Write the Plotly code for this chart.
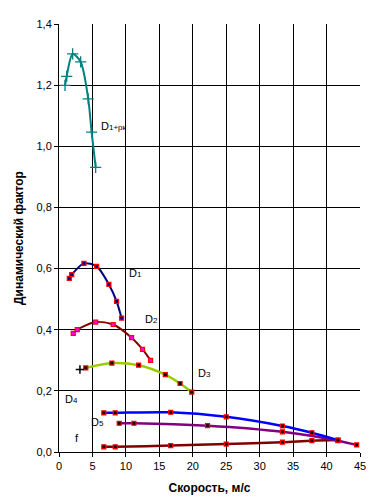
import plotly.graph_objects as go

# ---- data ----
d1rk_x = [0.9, 1.15, 2.04, 3.24, 4.37, 4.88, 5.48]
d1rk_y = [1.199, 1.229, 1.302, 1.276, 1.155, 1.046, 0.931]

d1_x = [1.54, 1.90, 3.73, 5.63, 7.46, 8.61, 9.36]
d1_y = [0.568, 0.580, 0.617, 0.607, 0.548, 0.493, 0.438]

d2_x = [2.13, 2.73, 5.48, 8.10, 10.85, 12.49, 13.69]
d2_y = [0.388, 0.400, 0.425, 0.417, 0.374, 0.336, 0.300]

d3_x = [4.0, 7.9, 11.9, 15.9, 18.1, 19.85]
d3_y = [0.275, 0.291, 0.284, 0.253, 0.224, 0.196]
d3_start_x = [3.13]
d3_start_y = [0.270]

d4_x = [6.7, 8.4, 16.7, 25.0, 33.4, 37.8, 41.7]
d4_y = [0.128, 0.128, 0.130, 0.115, 0.085, 0.063, 0.039]

d5_x = [9.0, 11.2, 22.2, 33.4, 41.7, 44.5]
d5_y = [0.094, 0.094, 0.086, 0.066, 0.037, 0.023]

f_x = [6.7, 8.4, 16.7, 25.0, 33.4, 37.8, 41.7]
f_y = [0.017, 0.017, 0.021, 0.026, 0.032, 0.037, 0.039]

x_ticks = [0, 5, 10, 15, 20, 25, 30, 35, 40, 45]
x_ticktext = ["0", "5", "10", "15", "20", "25", "30", "35", "40", "45"]
y_ticks = [0, 0.2, 0.4, 0.6, 0.8, 1.0, 1.2, 1.4]
y_ticktext = ["0,0", "0,2", "0,4", "0,6", "0,8", "1,0", "1,2", "1,4"]

FONT = "Liberation Sans, Arial, sans-serif"

fig = go.Figure()


def curve(x, y, color, mfill, width=2):
    fig.add_trace(go.Scatter(
        x=x, y=y, mode="lines+markers",
        line=dict(color=color, width=width, shape="spline", smoothing=0.8),
        marker=dict(symbol="square", size=4, color=mfill,
                    line=dict(color="#FF0000", width=1.2)),
        showlegend=False, hoverinfo="skip"))


fig.add_trace(go.Scatter(
    x=d1rk_x, y=d1rk_y, mode="lines+markers",
    line=dict(color="#008080", width=2, shape="spline", smoothing=0.8),
    marker=dict(symbol="cross-thin", size=8, color="#008080",
                line=dict(color="#008080", width=1.3)),
    showlegend=False, hoverinfo="skip"))

curve(d1_x, d1_y, "#000080", "#000080")
curve(d2_x, d2_y, "#800000", "#FF00FF")
curve(d3_x, d3_y, "#99CC00", "#000000", 2.5)
fig.add_trace(go.Scatter(
    x=d3_start_x, y=d3_start_y, mode="markers",
    marker=dict(symbol="cross-thin", size=6, color="#000000",
                line=dict(color="#000000", width=1.5)),
    showlegend=False, hoverinfo="skip"))
curve(f_x, f_y, "#800000", "#000000", 2.5)
curve(d5_x, d5_y, "#800080", "#000000", 2.5)
curve(d4_x, d4_y, "#0000FF", "#000000", 2.5)

labels = [
    ("D<span style='font-size:8px'>1+рк</span>", 6.0, 1.066),
    ("D<span style='font-size:8px'>1</span>", 10.2, 0.585),
    ("D<span style='font-size:8px'>2</span>", 12.6, 0.434),
    ("D<span style='font-size:8px'>3</span>", 20.5, 0.259),
    ("D<span style='font-size:8px'>4</span>", 0.6, 0.173),
    ("D<span style='font-size:8px'>5</span>", 4.5, 0.098),
    ("f", 2.1, 0.046),
]
for t, lx, ly in labels:
    fig.add_annotation(x=lx, y=ly, text=t, showarrow=False,
                       xanchor="left", yanchor="middle",
                       font=dict(family=FONT, size=11, color="#000000"))

fig.update_layout(
    width=378, height=504,
    margin=dict(l=59, r=18, t=24, b=52, autoexpand=False),
    paper_bgcolor="#FFFFFF", plot_bgcolor="#FFFFFF",
    font=dict(family=FONT, size=11, color="#000000"),
    xaxis=dict(
        range=[0, 45], tickvals=x_ticks, ticktext=x_ticktext,
        showgrid=True, gridcolor="#000000", gridwidth=1,
        showline=True, linecolor="#000000", linewidth=1,
        ticks="outside", ticklen=4, tickcolor="#000000",
        zeroline=False, automargin=False,
        title=dict(text="<b>Скорость, м/с</b>", standoff=12,
                   font=dict(family=FONT, size=12)),
    ),
    yaxis=dict(
        range=[0, 1.4], tickvals=y_ticks, ticktext=y_ticktext,
        showgrid=True, gridcolor="#000000", gridwidth=1,
        showline=True, linecolor="#000000", linewidth=1,
        ticks="outside", ticklen=4, tickcolor="#000000",
        zeroline=False, automargin=False,
        title=dict(text="<b>Динамический фактор</b>", standoff=10,
                   font=dict(family=FONT, size=12)),
    ),
)

fig.write_html(
    "out.html",
    config={"displayModeBar": False},
    post_script="document.body.style.margin='0';document.body.style.padding='0';",
)
